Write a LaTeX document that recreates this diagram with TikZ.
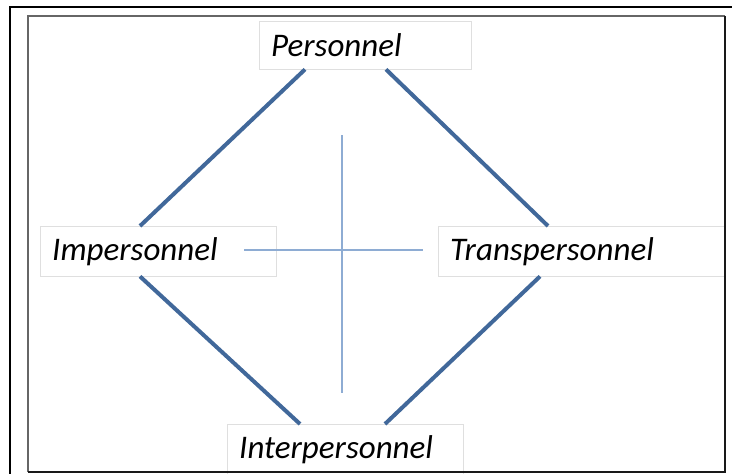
\documentclass[tikz,border=0pt]{standalone}
\usepackage{fontspec}
\setmainfont{Carlito}
\usepackage{tikz}
\definecolor{edgeblue}{HTML}{41689A}
\definecolor{axisblue}{HTML}{8EACD3}
\tikzset{
  pole/.style={draw=gray!25, fill=white, anchor=north west, inner xsep=12pt, inner ysep=0pt,
    align=left, font=\itshape\fontsize{33}{40}\selectfont},
  side/.style={line width=4pt, edgeblue},
}
\begin{document}
\begin{tikzpicture}[x=1pt, y=-1pt]
    \useasboundingbox (0,0) rectangle (732,474);
    \clip (0,0) rectangle (732,474);
    \draw[line width=2pt] (10,7) rectangle (745,490);

    \node[pole, text width=188pt, minimum height=48pt] (pers) at (259,21) {Personnel};
    \node[pole, text width=212pt, minimum height=50pt] (imp) at (40,226) {Impersonnel};
    \node[pole, text width=263pt, minimum height=50pt] (trans) at (438,226) {Transpersonnel};
    \node[pole, text width=212pt, minimum height=50pt] (inter) at (227,424) {Interpersonnel};

    % axes
    \coordinate (axN) at (342,135);
    \coordinate (axS) at (342,393);
    \coordinate (axW) at (244,250);
    \coordinate (axE) at (423,250);
    \draw[line width=2pt, axisblue] (axN) -- (axS);
    \draw[line width=1.5pt, axisblue] (axW) -- (axE);

    % diamond
    \draw[side] ([xshift=46pt]pers.south west) -- ([xshift=100pt]imp.north west);
    \draw[side] ([xshift=127pt]pers.south west) -- ([xshift=110pt]trans.north west);
    \draw[side] ([xshift=100pt]imp.south west) -- ([xshift=73pt]inter.north west);
    \draw[side] ([xshift=102pt]trans.south west) -- ([xshift=158pt]inter.north west);

    \draw[line width=1.5pt, black!60] (28,472) -- (28,16) -- (725,16);
    \draw[line width=1.5pt, black!90] (725,16) -- (725,472) -- (28,472);
\end{tikzpicture}
\end{document}
